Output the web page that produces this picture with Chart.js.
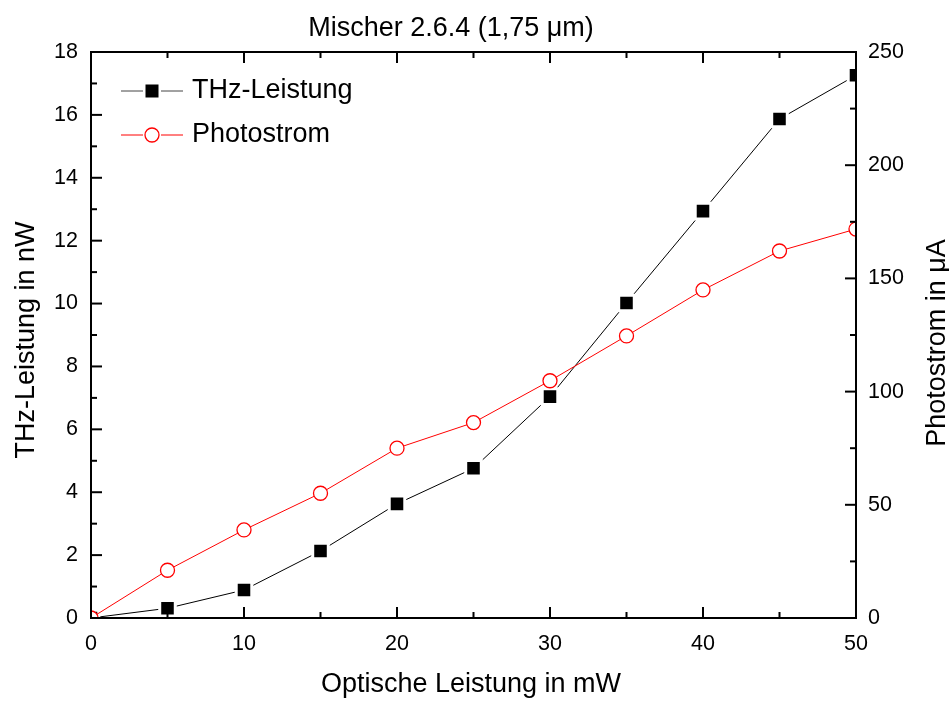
<!DOCTYPE html>
<html><head><meta charset="utf-8">
<script src="https://cdn.jsdelivr.net/npm/chart.js@4/dist/chart.umd.min.js"></script>
<style>html,body{margin:0;padding:0;background:#fff}#wrap{width:949px;height:702px}</style>
</head><body><div id="wrap"><canvas id="c" width="949" height="702"></canvas></div>
<script>
const titleText = 'Mischer 2.6.4 (1,75 \u03bcm)';
const xTitle = 'Optische Leistung in mW';
const yLeftTitle = 'THz-Leistung in nW';
const yRightTitle = 'Photostrom in \u03bcA';
const seriesNames = ['THz-Leistung', 'Photostrom'];
const opticalPower = [0, 5, 10, 15, 20, 25, 30, 35, 40, 45, 50];
const thzPower = [0, 0.31, 0.89, 2.13, 3.63, 4.76, 7.04, 10.02, 12.94, 15.87, 17.26];
const photocurrent = [0, 21.1, 38.9, 55.1, 75.0, 86.3, 104.8, 124.6, 144.9, 162.1, 171.8];
const xTicks = {min: 0, max: 50, major: 10, minor: 5};
const yLeftTicks = {min: 0, max: 18, major: 2, minor: 1};
const yRightTicks = {min: 0, max: 250, major: 50, minor: 25};

const FONT = '"Liberation Sans", Arial, sans-serif';

const framePlugin = {
  id: 'frame',
  afterDraw(chart) {
    const {ctx, chartArea: a, scales} = chart;
    ctx.save();
    ctx.strokeStyle = '#000';
    ctx.lineWidth = 2;
    ctx.beginPath();
    ctx.rect(a.left, a.top, a.right - a.left, a.bottom - a.top);
    ctx.stroke();
    const drawTicks = (scale, cfg, horizontal, edgeA, edgeB, dirA, dirB) => {
      for (let v = cfg.min; v <= cfg.max + 1e-9; v += cfg.minor) {
        const isMajor = Math.abs((v - cfg.min) / cfg.major - Math.round((v - cfg.min) / cfg.major)) < 1e-6;
        const len = isMajor ? 11 : 6;
        const p = scale.getPixelForValue(v);
        ctx.beginPath();
        if (horizontal) {
          ctx.moveTo(p, edgeA); ctx.lineTo(p, edgeA + dirA * len);
          ctx.moveTo(p, edgeB); ctx.lineTo(p, edgeB + dirB * len);
        } else {
          ctx.moveTo(edgeA, p); ctx.lineTo(edgeA + dirA * len, p);
        }
        ctx.stroke();
      }
    };
    drawTicks(scales.x, xTicks, true, a.bottom, a.top, -1, 1);
    drawTicks(scales.y, yLeftTicks, false, a.left, null, 1, 0);
    drawTicks(scales.y1, yRightTicks, false, a.right, null, -1, 0);

    // titles
    ctx.fillStyle = '#000';
    ctx.font = '27px ' + FONT;
    ctx.textBaseline = 'alphabetic';
    ctx.textAlign = 'center';
    ctx.fillText(titleText, 451, 36);
    ctx.fillText(xTitle, 471, 692);
    ctx.save();
    ctx.translate(34, 340);
    ctx.rotate(-Math.PI / 2);
    ctx.fillText(yLeftTitle, 0, 0);
    ctx.restore();
    ctx.save();
    ctx.translate(945, 343);
    ctx.rotate(-Math.PI / 2);
    ctx.fillText(yRightTitle, 0, 0);
    ctx.restore();

    // legend
    const items = [
      {y: 91, lineColor: '#444', style: 'rect'},
      {y: 135, lineColor: '#ff0000', style: 'circle'}
    ];
    items.forEach((it, i) => {
      ctx.lineWidth = 1;
      ctx.strokeStyle = it.lineColor;
      ctx.beginPath();
      ctx.moveTo(121, it.y); ctx.lineTo(143, it.y);
      ctx.moveTo(161, it.y); ctx.lineTo(183, it.y);
      ctx.stroke();
      if (it.style === 'rect') {
        ctx.fillStyle = '#000';
        ctx.fillRect(152 - 6.5, it.y - 6.5, 13, 13);
      } else {
        ctx.fillStyle = '#fff';
        ctx.strokeStyle = '#ff0000';
        ctx.lineWidth = 1.3;
        ctx.beginPath();
        ctx.arc(152, it.y, 7, 0, Math.PI * 2);
        ctx.fill(); ctx.stroke();
      }
      ctx.fillStyle = '#000';
      ctx.font = '27px ' + FONT;
      ctx.textBaseline = 'middle';
      ctx.textAlign = 'left';
      ctx.fillText(seriesNames[i], 192, it.y);
    });
    ctx.restore();
  }
};

new Chart(document.getElementById('c'), {
  type: 'line',
  data: {
    datasets: [
      {
        label: seriesNames[1],
        data: opticalPower.map((x, i) => ({x, y: photocurrent[i]})),
        yAxisID: 'y1',
        borderColor: '#ff0000',
        borderWidth: 1,
        pointStyle: 'circle',
        pointRadius: 7,
        pointBackgroundColor: '#fff',
        pointBorderColor: '#ff0000',
        pointBorderWidth: 1.3,
        tension: 0,
        clip: 0
      },
      {
        label: seriesNames[0],
        data: opticalPower.map((x, i) => ({x, y: thzPower[i]})),
        yAxisID: 'y',
        borderColor: '#000',
        borderWidth: 1,
        pointStyle: 'rect',
        pointRadius: 11,
        pointBackgroundColor: '#000',
        pointBorderColor: '#fff',
        pointBorderWidth: 3,
        tension: 0,
        clip: 0
      }
    ]
  },
  options: {
    responsive: false,
    animation: false,
    events: [],
    layout: {padding: {top: 52}},
    plugins: {
      legend: {display: false},
      tooltip: {enabled: false},
      title: {display: false}
    },
    scales: {
      x: {
        type: 'linear', position: 'bottom',
        min: xTicks.min, max: xTicks.max,
        grid: {display: false, drawTicks: false},
        border: {display: false},
        ticks: {stepSize: xTicks.major, color: '#000', padding: 13, font: {family: FONT, size: 21.5}},
        title: {display: false},
        afterFit(s) { s.height = 84; }
      },
      y: {
        type: 'linear', position: 'left',
        min: yLeftTicks.min, max: yLeftTicks.max,
        grid: {display: false, drawTicks: false},
        border: {display: false},
        ticks: {stepSize: yLeftTicks.major, color: '#000', padding: 13, font: {family: FONT, size: 21.5}},
        title: {display: false},
        afterFit(s) { s.width = 91; }
      },
      y1: {
        type: 'linear', position: 'right',
        min: yRightTicks.min, max: yRightTicks.max,
        grid: {display: false, drawTicks: false},
        border: {display: false},
        ticks: {stepSize: yRightTicks.major, color: '#000', padding: 12, font: {family: FONT, size: 21.5}},
        title: {display: false},
        afterFit(s) { s.width = 93; }
      }
    }
  },
  plugins: [framePlugin]
});
</script>
</body></html>
